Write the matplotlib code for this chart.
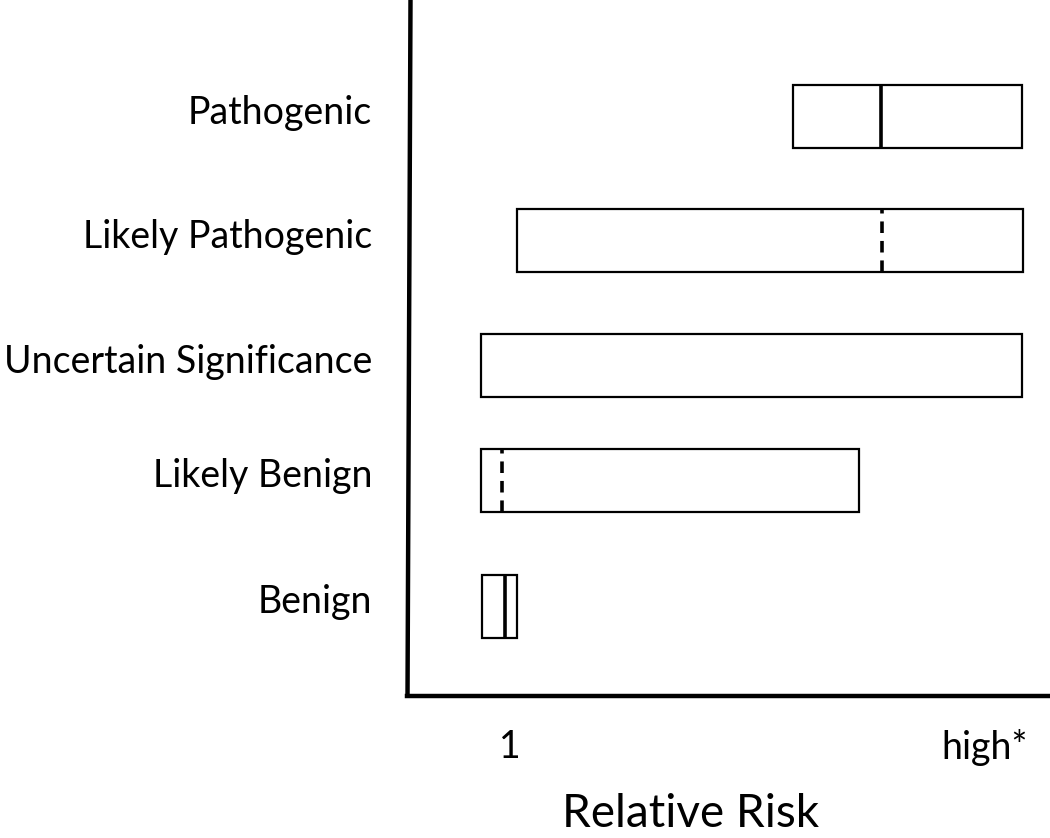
import matplotlib
matplotlib.use("Agg")
import matplotlib.pyplot as plt
from matplotlib.patches import Rectangle
from matplotlib.lines import Line2D

# ---- data (abstract relative-risk scale, 0..100 across the axis) ----
categories = ["Pathogenic", "Likely Pathogenic", "Uncertain Significance", "Likely Benign", "Benign"]
range_low = [60.0, 17.1, 11.5, 11.5, 11.7]
range_high = [95.6, 95.8, 95.6, 70.3, 17.1]
point_est = [73.7, 73.9, None, 14.8, 15.3]
est_style = ["solid", "dashed", None, "dashed", "solid"]
tick_values = [16.0, 89.9]
tick_labels = ["1", "high*"]
x_label = "Relative Risk"

# ---- layout ----
W, H = 1050, 838
fig = plt.figure(figsize=(W / 100, H / 100), dpi=100)
plt.rcParams['font.family'] = ['Lato', 'DejaVu Sans']

ax_left, ax_right, ax_top, ax_bottom = 407, 1050, 0, 696
ax = fig.add_axes([ax_left / W, 1 - ax_bottom / H, (ax_right - ax_left) / W, (ax_bottom - ax_top) / H])
ax.set_xlim(0, 100)
ax.set_ylim(0, 696)
row_y = [579, 455, 330, 216, 90]  # row centers (axis units, from bottom)
box_h = 63

for cat, lo, hi, est, st, y in zip(categories, range_low, range_high, point_est, est_style, row_y):
    ax.add_patch(Rectangle((lo, y - box_h / 2), hi - lo, box_h, facecolor="white",
                           edgecolor="black", linewidth=1.6, zorder=2))
    if est is not None:
        if st == "dashed":
            ax.plot([est, est], [y - box_h / 2, y + box_h / 2], color="black", lw=2.6,
                    dashes=(3.2, 2.2), zorder=3, solid_capstyle="butt")
        else:
            ax.plot([est, est], [y - box_h / 2, y + box_h / 2], color="black", lw=2.6,
                    zorder=3, solid_capstyle="butt")
    ax.text(-5.4, y + 4, cat, ha="right", va="center", fontsize=27.0, clip_on=False)

ax.set_xticks(tick_values)
ax.set_xticklabels(tick_labels, fontsize=27)
ax.tick_params(axis="x", length=0, pad=24)
ax.set_yticks([])
for s in ["top", "right", "left"]:
    ax.spines[s].set_visible(False)
ax.spines["bottom"].set_linewidth(3.2)

# x-axis title placed near the bottom edge, as in the reference
fig.text(691 / W, 1 - 827 / H, x_label, ha="center", va="baseline", fontsize=33)

# slightly slanted vertical axis line
fig.add_artist(Line2D([410.5 / W, 407.5 / W], [1.0, 1 - 697.5 / H], color="black", lw=3.2,
                      transform=fig.transFigure, solid_capstyle="butt"))

fig.savefig("out.png", dpi=100, facecolor="white")
